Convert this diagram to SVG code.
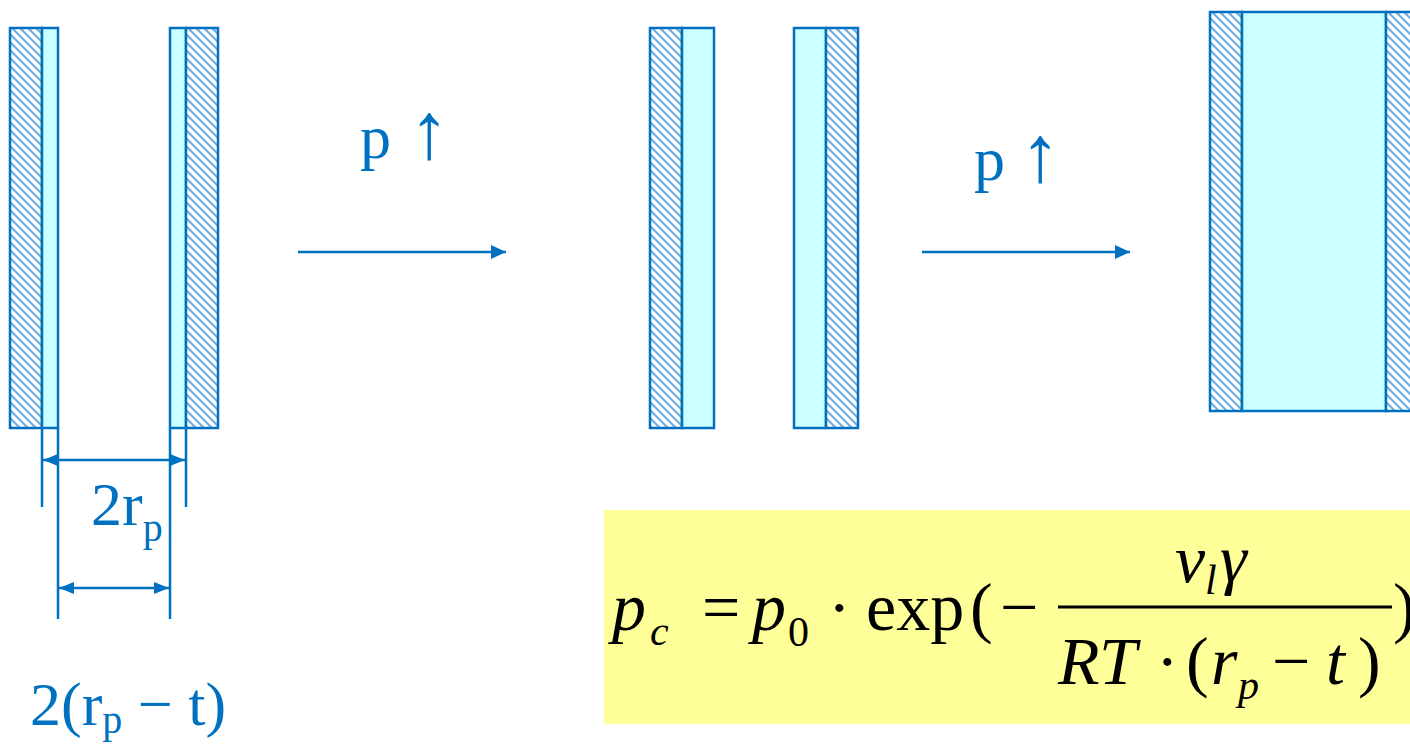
<svg xmlns="http://www.w3.org/2000/svg" width="1410" height="746" viewBox="0 0 1410 746">
<style>
.wall{stroke:#0070C0;stroke-width:2.5;fill:url(#hatch)}
.gap{stroke:#0070C0;stroke-width:2.5;fill:#CCFFFF}
.ln{stroke:#0070C0;stroke-width:2.5;fill:none}
.lbl{font-family:"Liberation Serif","Times New Roman",serif;fill:#0070C0;font-size:62px}
.arr{font-size:80px}
.sub{font-size:40px}
.eq{font-family:"Liberation Serif","Times New Roman",serif;fill:#000;font-size:68px}
.it{font-style:italic}
.es{font-size:42px}
</style>
<defs>
<pattern id="hatch" patternUnits="userSpaceOnUse" width="8" height="8">
<rect width="8" height="8" fill="#ffffff"/>
<path d="M-2,-2 L10,10 M-2,6 L2,10 M6,-2 L10,2" stroke="#6aaae0" stroke-width="2"/>
</pattern>
<marker id="ah" viewBox="0 0 15 14" refX="15" refY="7" markerWidth="15" markerHeight="14" markerUnits="userSpaceOnUse" orient="auto-start-reverse">
<path d="M0,0 L15,7 L0,14 Z" fill="#0070C0"/>
</marker>
<marker id="dh" viewBox="0 0 15 12" refX="15" refY="6" markerWidth="15" markerHeight="12" markerUnits="userSpaceOnUse" orient="auto-start-reverse">
<path d="M0,0 L15,6 L0,12 Z" fill="#0070C0"/>
</marker>
</defs>
<rect width="1410" height="746" fill="#ffffff"/>

<g id="tube1">
<rect class="wall" x="10" y="28" width="32" height="400"/>
<rect class="gap" x="42" y="28" width="16" height="400"/>
<rect class="gap" x="170" y="28" width="16" height="400"/>
<rect class="wall" x="186" y="28" width="32" height="400"/>
</g>

<g id="tube2">
<rect class="wall" x="650" y="28" width="32" height="400"/>
<rect class="gap" x="682" y="28" width="32" height="400"/>
<rect class="gap" x="794" y="28" width="32" height="400"/>
<rect class="wall" x="826" y="28" width="32" height="400"/>
</g>

<g id="tube3">
<rect class="wall" x="1210" y="12" width="32" height="399"/>
<rect class="gap" x="1242" y="12" width="144" height="399"/>
<rect class="wall" x="1386" y="12" width="32" height="399"/>
</g>

<g id="dim-outer">
<line class="ln" x1="42" y1="428" x2="42" y2="507"/>
<line class="ln" x1="186" y1="428" x2="186" y2="507"/>
<line class="ln" x1="43" y1="460" x2="185" y2="460" marker-start="url(#dh)" marker-end="url(#dh)"/>
<text class="lbl" x="91" y="525">2r<tspan class="sub" y="541">p</tspan></text>
</g>

<g id="dim-inner">
<line class="ln" x1="58" y1="428" x2="58" y2="619"/>
<line class="ln" x1="170" y1="428" x2="170" y2="619"/>
<line class="ln" x1="59" y1="588" x2="169" y2="588" marker-start="url(#dh)" marker-end="url(#dh)"/>
<text class="lbl" x="30" y="725">2(r<tspan class="sub" y="733">p</tspan><tspan y="725"> − t)</tspan></text>
</g>

<g id="connectors">
<line class="ln" x1="298" y1="252" x2="506" y2="252" marker-end="url(#ah)"/>
<line class="ln" x1="922" y1="252" x2="1130" y2="252" marker-end="url(#ah)"/>
</g>

<g id="label1">
<text class="lbl" x="360" y="158">p</text>
<text class="lbl arr" x="429" y="158" text-anchor="middle">↑</text>
</g>
<g id="label2">
<text class="lbl" x="974" y="180">p</text>
<text class="lbl arr" x="1040" y="181" text-anchor="middle">↑</text>
</g>

<g id="formula">
<rect x="604" y="510" width="806" height="214" fill="#FFFF99"/>
<text class="eq it" x="612" y="630">p</text>
<text class="eq it es" x="650" y="645">c</text>
<text class="eq" x="702" y="630">=</text>
<text class="eq it" x="752" y="630">p</text>
<text class="eq es" x="788" y="646">0</text>
<text class="eq" x="828" y="630">·</text>
<text class="eq" x="866" y="630">exp</text>
<text class="eq" x="970" y="630">(</text>
<text class="eq" x="1000" y="630">−</text>
<line x1="1058" y1="607" x2="1392" y2="607" stroke="#000" stroke-width="3"/>
<text class="eq it" x="1175" y="582">v</text>
<text class="eq it es" x="1205" y="594">l</text>
<text class="eq it" x="1220" y="582">γ</text>
<text class="eq it" x="1058" y="684">R</text>
<text class="eq it" x="1099" y="684">T</text>
<text class="eq" x="1156" y="684">·</text>
<text class="eq" x="1186" y="684">(</text>
<text class="eq it" x="1211" y="684">r</text>
<text class="eq it es" x="1238" y="699">p</text>
<text class="eq" x="1272" y="684">−</text>
<text class="eq it" x="1326" y="684">t</text>
<text class="eq" x="1358" y="684">)</text>
<text class="eq" x="1393" y="630">)</text>
</g>
</svg>
